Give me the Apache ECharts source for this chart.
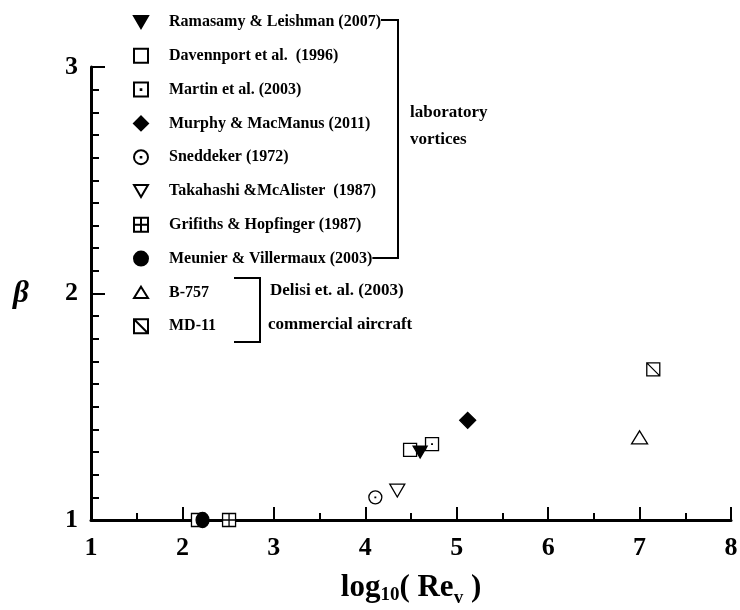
<!DOCTYPE html>
<html>
<head>
<meta charset="utf-8">
<script src="https://cdn.jsdelivr.net/npm/echarts@6/dist/echarts.min.js"></script>
<style>
  html, body { margin: 0; padding: 0; background: #fff; }
  #chart { width: 740px; height: 610px; }
</style>
</head>
<body>
<div id="chart"></div>
<script>
// Vortex core-size parameter beta versus log10 of the vortex Reynolds number
var seriesNames = [
  'Ramasamy & Leishman (2007)',
  'Davennport et al.  (1996)',
  'Martin et al. (2003)',
  'Murphy & MacManus (2011)',
  'Sneddeker (1972)',
  'Takahashi &McAlister  (1987)',
  'Grifiths & Hopfinger (1987)',
  'Meunier & Villermaux (2003)',
  'B-757',
  'MD-11'
];

// [log10(Re_v), beta] for each data source
var ramasamy   = [[4.60, 1.30]];
var davenport  = [[4.49, 1.31]];
var martin     = [[2.17, 1.00], [4.73, 1.335]];
var murphy     = [[5.12, 1.44]];
var sneddeker  = [[4.11, 1.10]];
var takahashi  = [[4.35, 1.13]];
var grifiths   = [[2.51, 1.00]];
var meunier    = [[2.22, 1.00]];
var b757       = [[7.00, 1.365]];
var md11       = [[7.15, 1.665]];

var xTicks = [1, 2, 3, 4, 5, 6, 7, 8];
var yTicks = [1, 2, 3];

var seriesData = [ramasamy, davenport, martin, murphy, sneddeker,
                  takahashi, grifiths, meunier, b757, md11];

var serif = '"Liberation Serif", "Times New Roman", serif';

// marker shapes for each source
var SQ = 'M0,0L13,0L13,13L0,13Z';
var DOT = 'M6.2,6.2L6.8,6.2L6.8,6.8L6.2,6.8Z';
var markers = [
  { symbol: 'path://M0,0L14,0L7,12Z', size: 14, fill: '#000' },
  { symbol: 'rect', size: 13, fill: '#fff' },
  { symbol: 'path://' + SQ + DOT, size: 13, fill: '#fff' },
  { symbol: 'diamond', size: 16, fill: '#000' },
  { symbol: 'path://M6.5,0A6.5,6.5,0,1,1,6.5,13A6.5,6.5,0,1,1,6.5,0Z' + DOT, size: 13, fill: '#fff' },
  { symbol: 'path://M0,0L15,0L7.5,13Z', size: 15, fill: '#fff' },
  { symbol: 'path://' + SQ + 'M6.5,0L6.5,13M0,6.5L13,6.5', size: 13, fill: '#fff' },
  { symbol: 'circle', size: [13, 15], fill: '#000' },
  { symbol: 'path://M8,0L16,13L0,13Z', size: 16, fill: '#fff' },
  { symbol: 'path://' + SQ + 'M0,0L13,13', size: 13, fill: '#fff' }
];

var series = seriesNames.map(function (name, i) {
  var m = markers[i];
  return {
    name: name,
    type: 'scatter',
    data: seriesData[i],
    symbol: m.symbol,
    symbolSize: m.size,
    symbolKeepAspect: true,
    z: i === 0 ? 4 : 3,
    itemStyle: { color: m.fill, borderColor: '#000', borderWidth: 1.3, opacity: 1 },
    emphasis: { disabled: true }
  };
});

var chart = echarts.init(document.getElementById('chart'), null, { renderer: 'canvas' });

var boldText = { fontFamily: serif, fontWeight: 'bold', color: '#000' };
function label(text, x, y) {
  return { type: 'text', left: x, top: y, z: 10,
    style: { text: text, fontSize: 17, fill: '#000', fontFamily: serif, fontWeight: 'bold' } };
}

chart.setOption({
  animation: false,
  backgroundColor: '#fff',
  grid: { left: 91, right: 9, top: 67, bottom: 90, containLabel: false, outerBoundsMode: 'none' },
  xAxis: {
    type: 'value',
    min: xTicks[0],
    max: xTicks[xTicks.length - 1],
    interval: 1,
    name: 'log{s10|10}( Re{sv|v} )',
    nameLocation: 'middle',
    nameGap: 47,
    nameTextStyle: {
      fontFamily: serif, fontWeight: 'bold', fontSize: 31, color: '#000',
      rich: {
        s10: { fontFamily: serif, fontWeight: 'bold', fontSize: 19, color: '#000', padding: [16, 0, 0, 0] },
        sv: { fontFamily: serif, fontWeight: 'bold', fontSize: 19, color: '#000', padding: [22, 0, 0, 0] }
      }
    },
    axisLine: { onZero: false, lineStyle: { color: '#000', width: 3 } },
    axisTick: { inside: true, length: 13, lineStyle: { color: '#000', width: 2 } },
    minorTick: { show: true, splitNumber: 2, length: 7, lineStyle: { color: '#000', width: 2 } },
    axisLabel: Object.assign({ fontSize: 26, margin: 15 }, boldText),
    splitLine: { show: false }
  },
  yAxis: {
    type: 'value',
    min: yTicks[0],
    max: yTicks[yTicks.length - 1],
    interval: 1,
    name: 'β',
    nameLocation: 'middle',
    nameRotate: 0,
    nameGap: 62,
    nameTextStyle: { fontFamily: serif, fontStyle: 'italic', fontWeight: 'bold', fontSize: 31, color: '#000' },
    axisLine: { onZero: false, lineStyle: { color: '#000', width: 3 } },
    axisTick: { inside: true, length: 14, lineStyle: { color: '#000', width: 2 } },
    minorTick: { show: true, splitNumber: 10, length: 8, lineStyle: { color: '#000', width: 2 } },
    axisLabel: Object.assign({ fontSize: 26, margin: 13 }, boldText),
    splitLine: { show: false }
  },
  legend: {
    data: seriesNames,
    orient: 'vertical',
    left: 128,
    top: 8,
    z: 10,
    itemWidth: 14,
    itemHeight: 14,
    itemGap: 15.8,
    selectedMode: false,
    textStyle: Object.assign({ fontSize: 16, lineHeight: 18, padding: [0, 0, 0, 16], backgroundColor: '#fff' }, boldText)
  },
  graphic: [
    { type: 'polyline', z: 1, shape: { points: [[372, 20], [398, 20], [398, 258], [352, 258]] },
      style: { stroke: '#000', lineWidth: 2, fill: null } },
    { type: 'polyline', z: 1, shape: { points: [[234, 278], [260, 278], [260, 342], [234, 342]] },
      style: { stroke: '#000', lineWidth: 2, fill: null } },
    label('laboratory', 410, 104),
    label('vortices', 410, 131),
    label('Delisi et. al. (2003)', 270, 282),
    label('commercial aircraft', 268, 316)
  ],
  series: series
});
</script>
</body>
</html>
